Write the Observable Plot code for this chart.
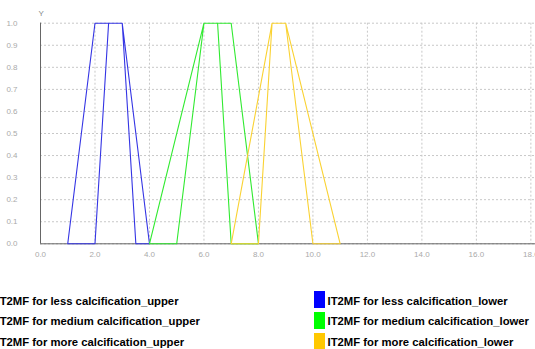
<!DOCTYPE html>
<html>
<head>
<meta charset="utf-8">
<script src="https://cdn.jsdelivr.net/npm/d3@7"></script>
<script src="https://cdn.jsdelivr.net/npm/@observablehq/plot@0.6"></script>
<style>
  html, body { margin: 0; padding: 0; background: #fff; overflow: hidden; }
  #wrap { position: relative; width: 535px; height: 349px; overflow: hidden; }
  #chart { position: absolute; left: 0; top: 0; }
  .leg { position: absolute; font-family: "Liberation Sans", Arial, sans-serif; font-weight: bold; font-size: 11.3px; color: #000; white-space: nowrap; line-height: 13px; }
  .sw { position: absolute; width: 11px; height: 17px; }
</style>
</head>
<body>
<div id="wrap"><div id="chart"></div></div>
<script>
// ---- data ----
const seriesNames = ["less calcification", "medium calcification", "more calcification"];
const seriesColors = ["#0000ff", "#00ff00", "#ffc800"];
const lineColors = ["#3434e4", "#30ea30", "#fad232"];
const upperX = [[1, 2, 3, 4], [4, 6, 7, 8], [7, 8.5, 9, 11]];
const lowerX = [[2, 2.5, 3, 3.5], [5, 6, 6.5, 7], [8, 8.5, 9, 10]];
const mfY = [0, 1, 1, 0];
const xTicks = [0, 2, 4, 6, 8, 10, 12, 14, 16, 18];
const yTicks = [0, 0.1, 0.2, 0.3, 0.4, 0.5, 0.6, 0.7, 0.8, 0.9, 1.0];

// footprint of uncertainty: upper MF, then lower MF reversed, closed
const pts = [];
seriesNames.forEach((s, i) => {
  upperX[i].forEach((x, j) => pts.push({s, x, y: mfY[j]}));
  for (let j = lowerX[i].length - 1; j >= 0; j--) pts.push({s, x: lowerX[i][j], y: mfY[j]});
  pts.push({s, x: upperX[i][0], y: mfY[0]});
});

const W = 535, H = 265;
const chart = Plot.plot({
  width: W, height: H,
  marginLeft: 40, marginRight: 0, marginTop: 22.7, marginBottom: 21.7,
  style: {fontFamily: "'Liberation Sans', Arial, sans-serif", fontSize: "8px", color: "#aaa", background: "#fff", overflow: "visible"},
  x: {domain: [0, 18.17], axis: null},
  y: {domain: [0, 1], axis: null},
  color: {domain: seriesNames, range: lineColors},
  marks: [
    Plot.gridY(yTicks, {stroke: "#c8c8c8", strokeOpacity: 1, strokeDasharray: "2,2"}),
    Plot.gridX(xTicks, {stroke: "#c8c8c8", strokeOpacity: 1, strokeDasharray: "2,2"}),
    Plot.axisY(yTicks, {tickSize: 0, tickPadding: 23, tickFormat: d3.format(".1f"), fill: "#aaa", label: null}),
    Plot.axisX(xTicks, {tickSize: 0, tickPadding: 8, tickFormat: d3.format(".1f"), fill: "#aaa", label: null}),
    Plot.ruleY([0], {stroke: "#666"}),
    Plot.ruleX([0], {stroke: "#666"}),
    Plot.line(pts, {x: "x", y: "y", z: "s", stroke: "s", strokeWidth: 1.1}),
    Plot.text(["Y"], {frameAnchor: "top-left", dx: -2, dy: -13, text: d => d, fill: "#888", fontSize: 8})
  ]
});
document.getElementById("chart").appendChild(chart);

// ---- legend ----
const wrap = document.getElementById("wrap");
const rowY = [299.6, 320.3, 341];
seriesNames.forEach((s, i) => {
  // left column: upper (swatch cut off at the left edge, as in the source)
  const sw1 = document.createElement("div");
  sw1.className = "sw";
  sw1.style.left = "-20px"; sw1.style.top = (rowY[i] - 8.5) + "px";
  sw1.style.background = seriesColors[i];
  wrap.appendChild(sw1);
  const t1 = document.createElement("div");
  t1.className = "leg";
  t1.style.left = "-3.5px"; t1.style.top = (rowY[i] - 5) + "px";
  t1.textContent = "IT2MF for " + s + "_upper";
  wrap.appendChild(t1);
  // right column: lower
  const sw2 = document.createElement("div");
  sw2.className = "sw";
  sw2.style.left = "314px"; sw2.style.top = (rowY[i] - 8.5) + "px";
  sw2.style.background = seriesColors[i];
  wrap.appendChild(sw2);
  const t2 = document.createElement("div");
  t2.className = "leg";
  t2.style.left = "327.5px"; t2.style.top = (rowY[i] - 5) + "px";
  t2.textContent = "IT2MF for " + s + "_lower";
  wrap.appendChild(t2);
});
</script>
</body>
</html>
